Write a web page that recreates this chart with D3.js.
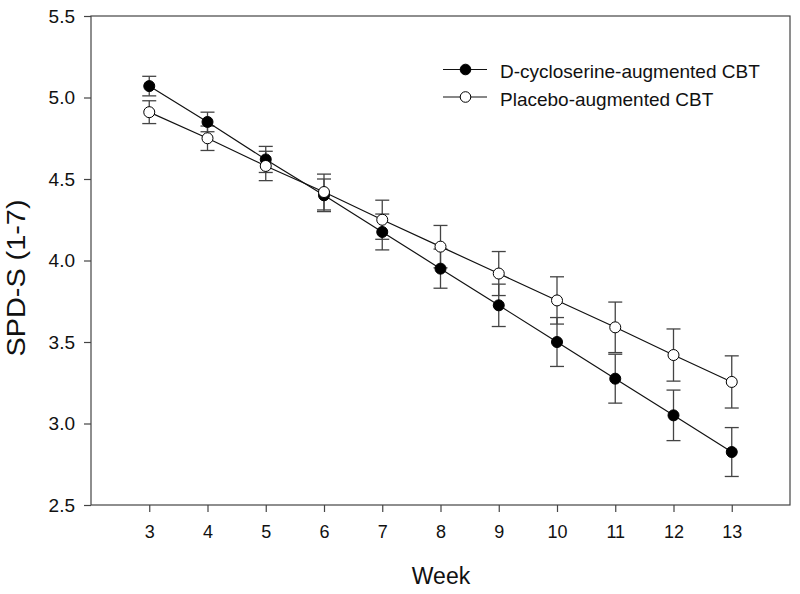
<!DOCTYPE html>
<html>
<head>
<meta charset="utf-8">
<script src="https://cdn.jsdelivr.net/npm/d3@7"></script>
<style>
  body { margin: 0; background: #fff; }
  text { font-family: "Liberation Sans", Arial, sans-serif; }
</style>
</head>
<body>
<script>
// weeks on the x axis
var weeks = [3, 4, 5, 6, 7, 8, 9, 10, 11, 12, 13];

// D-cycloserine group (means and error)
var dcsMean = [5.07, 4.85, 4.62, 4.40, 4.175, 3.95, 3.725, 3.50, 3.275, 3.05, 2.825];
var dcsErr  = [0.06, 0.06, 0.08, 0.10, 0.11, 0.12, 0.13, 0.15, 0.15, 0.155, 0.15];

// Placebo group
var plaMean = [4.91, 4.75, 4.58, 4.42, 4.25, 4.085, 3.92, 3.755, 3.59, 3.42, 3.255];
var plaErr  = [0.07, 0.075, 0.09, 0.11, 0.12, 0.13, 0.135, 0.145, 0.155, 0.16, 0.16];

var yTicks = [2.5, 3.0, 3.5, 4.0, 4.5, 5.0, 5.5];
var seriesNames = ["D-cycloserine-augmented CBT", "Placebo-augmented CBT"];

var width = 800, height = 594;
var margin = { top: 16, right: 10, bottom: 89, left: 91 };

var svg = d3.select("body").append("svg")
    .attr("width", width)
    .attr("height", height);

var x = d3.scaleLinear().domain([2, 14]).range([margin.left, width - margin.right]);
var y = d3.scaleLinear().domain([2.5, 5.5]).range([height - margin.bottom, margin.top]);

var axisColor = "#444";

// frame (box)
svg.append("rect")
    .attr("x", x(2)).attr("y", y(5.5))
    .attr("width", x(14) - x(2)).attr("height", y(2.5) - y(5.5))
    .attr("fill", "none").attr("stroke", axisColor).attr("stroke-width", 1.2);

// y axis
var yAxis = svg.append("g")
    .attr("transform", "translate(" + x(2) + ",0)")
    .call(d3.axisLeft(y).tickValues(yTicks).tickFormat(d3.format(".1f")).tickSize(7).tickPadding(9));
yAxis.select(".domain").remove();
yAxis.selectAll("line").attr("stroke", axisColor).attr("stroke-width", 1.2);
yAxis.selectAll("text").attr("font-size", 19).attr("fill", "#111")
    .style("font-family", "'Liberation Sans', Arial, sans-serif");

// x axis
var xAxis = svg.append("g")
    .attr("transform", "translate(0," + y(2.5) + ")")
    .call(d3.axisBottom(x).tickValues(weeks).tickFormat(d3.format("d")).tickSize(7).tickPadding(13));
xAxis.select(".domain").remove();
xAxis.selectAll("line").attr("stroke", axisColor).attr("stroke-width", 1.2);
xAxis.selectAll("text").attr("font-size", 18).attr("fill", "#111")
    .style("font-family", "'Liberation Sans', Arial, sans-serif");

// axis titles
svg.append("text")
    .attr("x", 441).attr("y", 584)
    .attr("text-anchor", "middle").attr("font-size", 23).attr("fill", "#111")
    .text("Week");

svg.append("text")
    .attr("transform", "translate(25,278) rotate(-90)")
    .attr("text-anchor", "middle").attr("font-size", 25).attr("fill", "#111")
    .attr("textLength", 157).attr("lengthAdjust", "spacingAndGlyphs")
    .text("SPD-S (1-7)");

function drawSeries(means, errs, fill) {
    var data = weeks.map(function(w, i) { return { w: w, m: means[i], e: errs[i] }; });
    var g = svg.append("g");

    // error bars
    var capW = 7;
    var eb = g.selectAll("g.err").data(data).enter().append("g").attr("class", "err")
        .attr("stroke", axisColor).attr("stroke-width", 1.3);
    eb.append("line")
        .attr("x1", function(d) { return x(d.w); }).attr("x2", function(d) { return x(d.w); })
        .attr("y1", function(d) { return y(d.m + d.e); }).attr("y2", function(d) { return y(d.m - d.e); });
    eb.append("line")
        .attr("x1", function(d) { return x(d.w) - capW; }).attr("x2", function(d) { return x(d.w) + capW; })
        .attr("y1", function(d) { return y(d.m + d.e); }).attr("y2", function(d) { return y(d.m + d.e); });
    eb.append("line")
        .attr("x1", function(d) { return x(d.w) - capW; }).attr("x2", function(d) { return x(d.w) + capW; })
        .attr("y1", function(d) { return y(d.m - d.e); }).attr("y2", function(d) { return y(d.m - d.e); });

    return { g: g, data: data, fill: fill };
}

var s1 = drawSeries(dcsMean, dcsErr, "#000");
var s2 = drawSeries(plaMean, plaErr, "#fff");

var line = d3.line().x(function(d) { return x(d.w); }).y(function(d) { return y(d.m); });

[s1, s2].forEach(function(s) {
    svg.append("path").datum(s.data)
        .attr("d", line).attr("fill", "none").attr("stroke", "#111").attr("stroke-width", 1.2);
});
[s1, s2].forEach(function(s) {
    svg.append("g").selectAll("circle").data(s.data).enter().append("circle")
        .attr("cx", function(d) { return x(d.w); })
        .attr("cy", function(d) { return y(d.m); })
        .attr("r", 5.5)
        .attr("fill", s.fill).attr("stroke", "#000").attr("stroke-width", 1);
});

// legend
var legend = svg.append("g");
var fills = ["#000", "#fff"];
seriesNames.forEach(function(name, i) {
    var ly = 69.5 + i * 27.5;
    legend.append("line").attr("x1", 443).attr("x2", 487).attr("y1", ly).attr("y2", ly)
        .attr("stroke", "#111").attr("stroke-width", 1.2);
    legend.append("circle").attr("cx", 465.5).attr("cy", ly).attr("r", 5.3)
        .attr("fill", fills[i]).attr("stroke", "#000");
    legend.append("text").attr("x", 500).attr("y", ly + 8.5)
        .attr("font-size", 19).attr("fill", "#111").text(name);
});
</script>
</body>
</html>
